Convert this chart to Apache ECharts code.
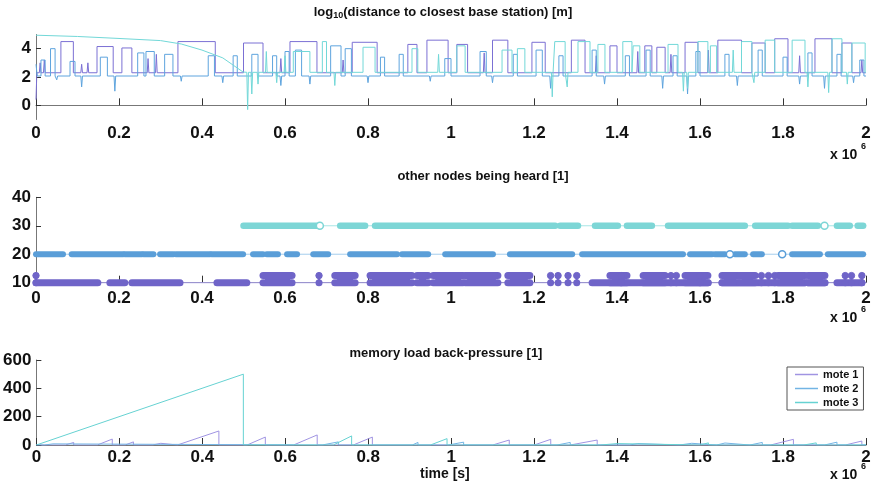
<!DOCTYPE html>
<html><head><meta charset="utf-8">
<script src="https://cdn.jsdelivr.net/npm/echarts@6/dist/echarts.min.js"></script>
<style>html,body{margin:0;padding:0;background:#fff}#c{width:874px;height:487px}</style>
</head><body><div id="c"></div>
<script>
// ---------------- DATA (time in units of 10^6 s) ----------------
const distYTicks = [0, 2, 4];
const heardYTicks = [10, 20, 30, 40];
const memYTicks = [0, 200, 400, 600];
const seriesNames = ['mote 1', 'mote 2', 'mote 3'];

// log10(distance) : baseline levels, leading points, pulses [start,end,top], spikes [x,y]
const m1DistBase = 2.3;
const m1DistLead = [[0, 0.4], [0.002, 2.3]];
const m1DistPulses = [[0.060,0.090,4.5],[0.147,0.186,4.15],[0.207,0.231,4.05],[0.342,0.432,4.5],[0.500,0.547,4.4],[0.612,0.677,4.5],[0.762,0.822,4.45],[0.896,0.918,4.3],[0.942,0.993,4.6],[1.014,1.040,4.3],[1.100,1.137,4.6],[1.195,1.227,4.45],[1.290,1.323,4.6],[1.383,1.400,4.2],[1.467,1.484,4.2],[1.496,1.516,4.1],[1.564,1.595,4.45],[1.643,1.700,4.6],[1.725,1.757,4.4],[1.780,1.812,4.7],[1.877,1.918,4.7],[1.942,1.966,4.4]];
const m1DistSpikes = [[0.01,3.0],[0.02,3.2],[0.11,2.9],[0.125,3.0],[0.27,3.3],[0.29,3.6],[0.59,3.3],[0.74,3.2],[1.08,3.7],[1.35,3.5],[1.45,3.8],[1.53,3.6],[1.62,3.9],[1.84,3.5],[1.99,3.2]];

const m2DistBase = 2.07;
const m2DistLead = [[0, 2.9], [0.003, 2.07]];
const m2DistPulses = [[0.012,0.022,3.2],[0.035,0.046,4.0],[0.082,0.094,3.1],[0.155,0.172,3.4],[0.245,0.26,3.7],[0.265,0.285,3.8],[0.31,0.33,3.6],[0.415,0.43,3.5],[0.475,0.485,3.5],[0.52,0.535,3.6],[0.57,0.58,3.5],[0.60,0.61,3.8],[0.625,0.64,3.9],[0.71,0.735,4.2],[0.745,0.76,4.0],[0.83,0.84,3.4],[0.875,0.885,3.6],[0.985,1.0,3.3],[1.07,1.085,3.8],[1.15,1.16,3.6],[1.205,1.22,3.9],[1.26,1.27,3.5],[1.34,1.35,3.9],[1.42,1.43,3.5],[1.47,1.48,3.9],[1.535,1.545,3.5],[1.59,1.6,3.8],[1.66,1.67,3.6],[1.74,1.75,3.9],[1.80,1.81,3.4],[1.86,1.87,3.7],[1.93,1.94,3.6],[1.985,1.995,3.2]];
const m2DistSpikes = [[0.05,1.8],[0.11,1.3],[0.19,1.0],[0.35,1.7],[0.45,1.6],[0.59,1.4],[0.66,1.5],[0.80,1.6],[0.95,1.7],[1.1,1.6],[1.24,1.2],[1.37,1.5],[1.51,1.2],[1.57,0.8],[1.69,1.4],[1.84,1.5],[1.90,1.2],[1.97,1.6]];

const m3DistBase = 2.33;
const m3DistLead = [[0,4.95],[0.1,4.86],[0.2,4.72],[0.3,4.57],[0.35,4.33],[0.4,3.9],[0.45,3.35],[0.499,2.35]];
const m3DistPulses = [[0.62,0.66,3.8],[0.69,0.70,4.5],[0.788,0.817,4.1],[0.906,0.92,4.0],[1.014,1.034,4.2],[1.123,1.147,3.9],[1.16,1.178,4.0],[1.25,1.275,4.5],[1.306,1.335,4.5],[1.354,1.371,4.3],[1.414,1.436,4.5],[1.439,1.455,4.2],[1.523,1.547,4.3],[1.595,1.619,4.5],[1.625,1.64,4.2],[1.70,1.725,4.5],[1.757,1.78,4.6],[1.822,1.853,4.6],[1.918,1.942,4.7],[1.966,1.998,4.4]];
const m3DistSpikes = [[0.51,-0.3],[0.52,0.8],[0.535,1.5],[0.555,3.8],[0.58,1.6],[0.60,3.5],[0.72,1.4],[0.97,3.6],[1.244,0.6],[1.28,1.3],[1.56,1.0],[1.57,1.2],[1.68,3.9],[1.73,1.6],[1.86,1.3],[1.91,0.9],[1.955,1.5]];

// other nodes being heard : thin reference lines [start,end,level]
const heardLines1 = [[0, 2, 10]];
const heardLines2 = [[0, 2, 20]];
const heardLines3 = [[0.5, 2, 30]];
// dense marker bands [start,end,level]
const heardBands1 = [[0.0,0.149,10],[0.178,0.214,10],[0.231,0.347,10],[0.436,0.508,10],[1.34,1.62,10],[1.653,1.853,10],[1.86,1.901,10],[1.93,1.99,10]];
const heardBands2 = [[0.0,0.065,20],[0.086,0.210,20],[0.214,0.255,20],[0.259,0.283,20],[0.299,0.331,20],[0.337,0.419,20],[0.423,0.499,20],[0.523,0.547,20],[0.556,0.583,20],[0.605,0.629,20],[0.668,0.704,20],[0.757,0.87,20],[0.882,0.945,20],[0.986,1.101,20],[1.142,1.292,20],[1.316,1.559,20],[1.576,1.629,20],[1.636,1.66,20],[1.684,1.708,20],[1.728,1.749,20],[1.822,1.889,20],[1.908,1.993,20]];
const heardBands3 = [[0.50,0.677,30],[0.733,0.793,30],[0.817,1.251,30],[1.263,1.306,30],[1.347,1.402,30],[1.424,1.484,30],[1.523,1.708,30],[1.733,1.812,30],[1.822,1.884,30],[1.93,1.961,30],[1.98,1.993,30]];
// blocks with stems between two levels [start,end,low,high]
const heardBlocks1 = [[0.547,0.617,10,12.5],[0.72,0.769,10,12.5],[0.805,0.906,10,12.5],[0.918,0.945,10,12.5],[0.957,1.029,10,12.5],[1.034,1.113,10,12.5],[1.137,1.19,10,12.5],[1.383,1.424,10,12.5],[1.463,1.516,10,12.5],[1.564,1.619,10,12.5],[1.653,1.692,10,12.5],[1.696,1.733,10,12.5],[1.788,1.853,10,12.5],[1.86,1.901,10,12.5]];
// single stems [x,low,high]
const heardStems1 = [[0.0,10,12.5],[0.682,10,12.5],[1.24,10,12.5],[1.258,10,12.5],[1.282,10,12.5],[1.303,10,12.5],[1.41,10,12.5],[1.53,10,12.5],[1.543,10,12.5],[1.60,10,12.5],[1.748,10,12.5],[1.765,10,12.5],[1.78,10,12.5],[1.95,10,12.5],[1.965,10,12.5],[1.99,10,12.5]];
// isolated markers [x,level]
const heardDots2 = [[1.672,20],[1.798,20]];
const heardDots3 = [[0.684,30],[1.90,30]];

// memory load back-pressure : sawtooth ramps [start,end,peak]
const m1MemRamps = [[0.07,0.09,18],[0.147,0.183,42],[0.214,0.234,22],[0.28,0.30,12],[0.34,0.44,99],[0.508,0.552,56],[0.62,0.677,71],[0.764,0.81,56],[1.1,1.14,35],[1.2,1.24,40],[1.287,1.352,35],[1.77,1.825,40],[1.95,1.99,28]];
const m2MemRamps = [[0.02,0.04,8],[0.689,0.728,22],[0.906,0.92,18],[0.993,1.03,20],[1.255,1.287,18],[1.43,1.45,10],[1.55,1.58,12],[1.64,1.66,14],[1.72,1.75,18],[1.9,1.93,20]];
const m3MemRamps = [[0,0.499,500],[0.716,0.76,64],[0.95,0.99,45],[1.36,1.40,10],[1.60,1.62,15],[1.85,1.88,15]];

// ---------------- BUILD ----------------
function buildTrace(base, lead, pulses, spikes) {
  const ev = [];
  pulses.forEach(p => ev.push({x: p[0], pts: [[p[0], base], [p[0], p[2]], [p[1], p[2]], [p[1], base]]}));
  spikes.forEach(s => ev.push({x: s[0], pts: [[s[0] - 0.002, base], [s[0], s[1]], [s[0] + 0.002, base]]}));
  ev.sort((a, b) => a.x - b.x);
  const out = lead.slice();
  ev.forEach(e => out.push(...e.pts));
  out.push([2, base]);
  return out;
}
function buildRamps(ramps) {
  const out = [[0, 0]];
  ramps.forEach(r => { out.push([r[0], 0], [r[1], r[2]], [r[1], 0]); });
  out.push([2, 0]);
  return out;
}

const FONT = "'Liberation Sans', Arial, sans-serif";
const C1 = '#6f64c8', C2 = '#5a9ed8', C3 = '#7dd6d6';
const C1t = '#7b70d4', C2t = '#5ea4de', C3t = '#72d8d8';
const C1m = '#a094e2', C2m = '#72b4e4', C3m = '#66d2d2';
const C1l = '#a49ce4', C2l = '#a4cdee', C3l = '#a8e6e6';

function xAxis(i, margin) {
  return {type: 'value', gridIndex: i, min: 0, max: 2, interval: 0.2,
    axisLine: {show: true, lineStyle: {color: '#777', width: 1}},
    axisTick: {show: true, inside: true, length: 7, lineStyle: {color: '#333'}},
    splitLine: {show: false},
    axisLabel: {margin: margin, fontFamily: FONT, fontWeight: 'bold', fontSize: 17, color: '#111',
      formatter: v => String(+(+v).toFixed(1))}};
}
function yAxis(i, min, max, ticks) {
  return {type: 'value', gridIndex: i, min: min, max: max,
    axisLine: {show: true, lineStyle: {color: '#777', width: 1}},
    axisTick: {show: true, inside: true, length: 5, lineStyle: {color: '#333'}, customValues: ticks},
    splitLine: {show: false},
    axisLabel: {margin: 5, fontFamily: FONT, fontWeight: 'bold', fontSize: 17, color: '#111', customValues: ticks}};
}
function lineSeries(name, xi, data, color) {
  return {type: 'line', name: name, xAxisIndex: xi, yAxisIndex: xi, data: data, symbol: 'none',
    showSymbol: false, lineStyle: {color: color, width: 1}, itemStyle: {color: color}, silent: true, z: 3};
}
function segSeries(data, color, width, z) {
  return {type: 'custom', xAxisIndex: 1, yAxisIndex: 1, silent: true, data: data, z: z,
    encode: {x: [0, 1], y: 2},
    renderItem: (p, api) => {
      const a = api.coord([api.value(0), api.value(2)]), b = api.coord([api.value(1), api.value(2)]);
      return {type: 'line', shape: {x1: a[0], y1: a[1], x2: b[0], y2: b[1]},
        style: {stroke: color, lineWidth: width, lineCap: 'round'}};
    }};
}
function blockSeries(data, color) {
  return {type: 'custom', xAxisIndex: 1, yAxisIndex: 1, silent: true, data: data, z: 4,
    encode: {x: [0, 1], y: [2, 3]},
    renderItem: (p, api) => {
      const s = api.value(0), e = api.value(1), lo = api.value(2), hi = api.value(3);
      const a = api.coord([s, lo]), b = api.coord([e, lo]), c = api.coord([s, hi]);
      return {type: 'group', children: [
        {type: 'rect', shape: {x: a[0] + 2, y: c[1], width: Math.max(b[0] - a[0] - 4, 1), height: a[1] - c[1]}, style: {fill: color}},
        {type: 'line', shape: {x1: a[0], y1: a[1], x2: b[0], y2: b[1]}, style: {stroke: color, lineWidth: 7, lineCap: 'round'}},
        {type: 'line', shape: {x1: a[0], y1: c[1], x2: b[0], y2: c[1]}, style: {stroke: color, lineWidth: 7, lineCap: 'round'}}
      ]};
    }};
}
function stemSeries(data, color) {
  return {type: 'custom', xAxisIndex: 1, yAxisIndex: 1, silent: true, data: data, z: 4,
    encode: {x: 0, y: [1, 2]},
    renderItem: (p, api) => {
      const a = api.coord([api.value(0), api.value(1)]), c = api.coord([api.value(0), api.value(2)]);
      return {type: 'group', children: [
        {type: 'line', shape: {x1: a[0], y1: a[1], x2: c[0], y2: c[1]}, style: {stroke: color, lineWidth: 2}},
        {type: 'circle', shape: {cx: c[0], cy: c[1], r: 3.2}, style: {fill: color, stroke: color}},
        {type: 'circle', shape: {cx: a[0], cy: a[1], r: 3.5}, style: {fill: color}}
      ]};
    }};
}
function dotSeries(data, color) {
  return {type: 'custom', xAxisIndex: 1, yAxisIndex: 1, silent: true, data: data, z: 4,
    encode: {x: 0, y: 1},
    renderItem: (p, api) => {
      const a = api.coord([api.value(0), api.value(1)]);
      return {type: 'circle', shape: {cx: a[0], cy: a[1], r: 3.5}, style: {fill: '#fff', stroke: color, lineWidth: 1.5}};
    }};
}

const titleStyle = {fontFamily: FONT, fontWeight: 'bold', fontSize: 13, color: '#111'};

const option = {
  animation: false,
  backgroundColor: '#fff',
  grid: [
    {left: 36, right: 8, top: 34.5, height: 85},
    {left: 36, right: 8, top: 197.3, height: 85.4},
    {left: 36, right: 8, top: 360, height: 85}
  ],
  xAxis: [xAxis(0, 5), xAxis(1, 7), xAxis(2, 4)],
  yAxis: [yAxis(0, -1, 5, distYTicks), yAxis(1, 10, 40, heardYTicks), yAxis(2, 0, 600, memYTicks)],
  title: [
    {text: '{n|log}{s|10}{n|(distance to closest base station) [m]}', left: 443, top: 4, padding: 0, textAlign: 'center',
      textStyle: {rich: {n: Object.assign({lineHeight: 17}, titleStyle), s: Object.assign({}, titleStyle, {fontSize: 9, lineHeight: 17, padding: [7, 0, 0, 0]})}}},
    {text: 'other nodes being heard [1]', left: 483, top: 170, padding: 0, textAlign: 'center', textStyle: titleStyle},
    {text: 'memory load back-pressure [1]', left: 446, top: 347, padding: 0, textAlign: 'center', textStyle: titleStyle}
  ],
  legend: {
    data: seriesNames.map((n, i) => ({name: n, itemStyle: {color: [C1m, C2m, C3m][i]}})),
    orient: 'vertical', left: 787, top: 367, padding: [2, 5, 2, 8], itemGap: 3,
    itemWidth: 23, itemHeight: 1.5, icon: 'rect', selectedMode: false,
    borderColor: '#555', borderWidth: 1, backgroundColor: '#fff', borderRadius: 0,
    textStyle: {fontFamily: FONT, fontWeight: 'bold', fontSize: 11, color: '#111', lineHeight: 11}
  },
  graphic: [
    {type: 'text', left: 830, top: 148, style: {text: 'x 10', font: 'bold 14px ' + FONT, fill: '#111'}},
    {type: 'text', left: 861, top: 142, style: {text: '6', font: 'bold 9px ' + FONT, fill: '#111'}},
    {type: 'text', left: 830, top: 311, style: {text: 'x 10', font: 'bold 14px ' + FONT, fill: '#111'}},
    {type: 'text', left: 861, top: 305, style: {text: '6', font: 'bold 9px ' + FONT, fill: '#111'}},
    {type: 'text', left: 830, top: 468, style: {text: 'x 10', font: 'bold 14px ' + FONT, fill: '#111'}},
    {type: 'text', left: 861, top: 462, style: {text: '6', font: 'bold 9px ' + FONT, fill: '#111'}},
    {type: 'text', left: 420, top: 467, style: {text: 'time [s]', font: 'bold 14px ' + FONT, fill: '#111'}}
  ],
  series: [
    lineSeries('d1', 0, buildTrace(m1DistBase, m1DistLead, m1DistPulses, m1DistSpikes), C1t),
    lineSeries('d2', 0, buildTrace(m2DistBase, m2DistLead, m2DistPulses, m2DistSpikes), C2t),
    lineSeries('d3', 0, buildTrace(m3DistBase, m3DistLead, m3DistPulses, m3DistSpikes), C3t),

    segSeries(heardLines1, C1l, 1, 2),
    segSeries(heardLines2, C2l, 1, 2),
    segSeries(heardLines3, C3l, 1, 2),
    segSeries(heardBands1, C1, 7, 3),
    segSeries(heardBands2, C2, 6, 3),
    segSeries(heardBands3, C3, 6.5, 3),
    blockSeries(heardBlocks1, C1),
    stemSeries(heardStems1, C1),
    dotSeries(heardDots2, C2),
    dotSeries(heardDots3, C3),

    lineSeries('mote 1', 2, buildRamps(m1MemRamps), C1m),
    lineSeries('mote 2', 2, buildRamps(m2MemRamps), C2m),
    lineSeries('mote 3', 2, buildRamps(m3MemRamps), C3m)
  ]
};
const chart = echarts.init(document.getElementById('c'), null, {renderer: 'canvas'});
chart.setOption(option);
</script>
</body></html>
